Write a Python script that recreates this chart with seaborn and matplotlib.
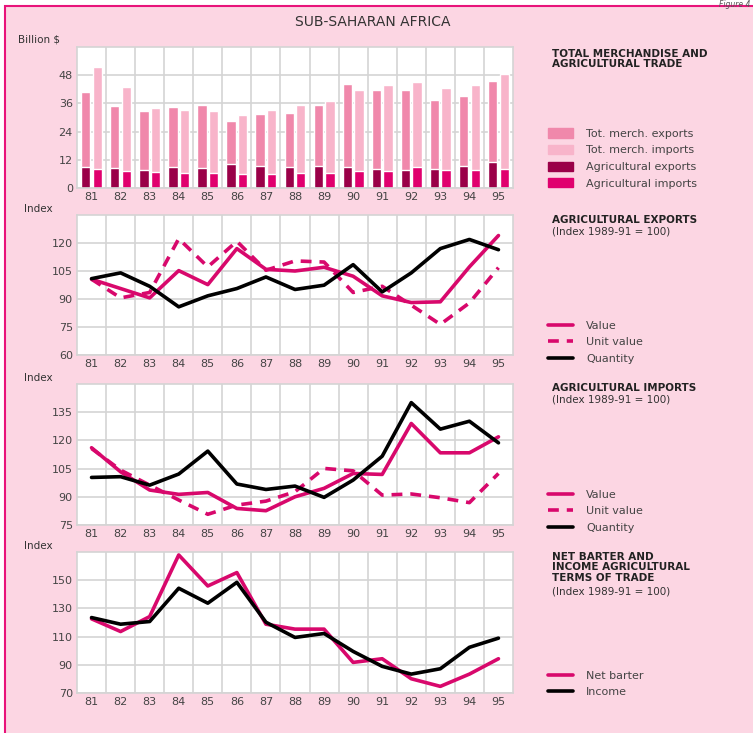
import pandas as pd
import numpy as np
import matplotlib.pyplot as plt
import seaborn as sns
from matplotlib.patches import Patch, Rectangle
from matplotlib.lines import Line2D
from matplotlib.ticker import FixedLocator

# Data
years = ['81', '82', '83', '84', '85', '86', '87', '88', '89', '90', '91', '92', '93', '94', '95']

tot_exports = [40.8, 34.9, 32.7, 34.4, 35.2, 28.4, 31.7, 31.8, 35.5, 44.3, 41.5, 41.9, 37.5, 39.1, 45.7]
tot_imports = [51.4, 43.0, 34.1, 33.4, 32.7, 31.1, 33.1, 35.2, 37.2, 41.5, 43.8, 45.3, 42.6, 43.9, 48.3]
ag_exports = [8.9, 8.4, 7.8, 9.1, 8.7, 10.1, 9.4, 9.1, 9.4, 9.1, 8.1, 7.8, 8.0, 9.5, 10.9]
ag_imports = [8.1, 7.2, 6.7, 6.3, 6.4, 5.8, 5.8, 6.3, 6.5, 7.1, 7.1, 8.8, 7.7, 7.7, 8.2]

exp_value = [100.6, 95.6, 90.6, 105.2, 97.7, 117.0, 105.9, 105.0, 107.0, 102.2, 91.7, 88.1, 88.5, 107.2, 124.0]
exp_unit_value = [100.6, 90.6, 93.5, 122.3, 107.2, 120.9, 105.4, 110.4, 109.8, 93.5, 96.8, 86.7, 76.4, 87.9, 106.8]
exp_quantity = [100.9, 104.0, 96.8, 85.8, 91.7, 95.6, 101.8, 95.1, 97.4, 108.4, 93.8, 104.0, 117.0, 121.9, 116.4]

imp_value = [116.1, 103.3, 93.6, 91.3, 92.3, 83.8, 82.6, 90.0, 94.5, 102.4, 101.9, 129.0, 113.4, 113.4, 121.9]
imp_unit_value = [115.7, 104.2, 96.2, 88.3, 80.7, 85.6, 87.7, 92.7, 105.1, 103.8, 90.9, 91.5, 89.5, 86.9, 102.4]
imp_quantity = [100.3, 100.7, 96.2, 102.1, 114.3, 96.8, 93.9, 95.7, 89.7, 98.9, 111.6, 140.1, 126.0, 130.2, 118.7]

net_barter = [122.6, 113.6, 124.2, 167.9, 145.9, 155.4, 118.8, 115.3, 115.3, 91.7, 94.3, 80.1, 74.7, 83.4, 94.3]
income = [123.5, 118.8, 120.7, 144.3, 133.7, 148.5, 120.2, 109.4, 112.2, 99.5, 88.9, 83.4, 87.2, 102.4, 108.9]

# Colours
BG = '#fcd6e3'
BORDER = '#e8137a'
C_TOTEXP = '#f088ab'
C_TOTIMP = '#f8b4ca'
C_AGEXP = '#9a0048'
C_AGIMP = '#e0006e'
C_LINE = '#d8086c'
C_TEXT = '#444444'
C_GRID = '#d4d4d4'

sns.set_theme(style='white')
plt.rcParams['font.family'] = ['DejaVu Sans']

fig = plt.figure(figsize=(7.53, 7.33), dpi=100, facecolor='white')
fig.patches.append(Rectangle((5 / 753, -0.05), 1.0, 1 - 6 / 733 + 0.05, transform=fig.transFigure,
                             facecolor=BG, edgecolor=BORDER, linewidth=1.5, zorder=-10))
fig.text(0.997, 0.9995, 'Figure 4', fontsize=5.5, color='#555555', style='italic', va='top', ha='right')

fig.text(373 / 753, 1 - 22 / 733, 'SUB-SAHARAN AFRICA', ha='center', va='center', fontsize=10, color='#333333')

L, W = 77 / 753, (513 - 77) / 753
def make_ax(top, bottom):
    return fig.add_axes([L, 1 - bottom / 733, W, (bottom - top) / 733])

def style_ax(ax, ylim, yticks):
    ax.set_facecolor('white')
    ax.set_xlim(-0.5, len(years) - 0.5)
    ax.set_ylim(*ylim)
    ax.set_yticks(yticks)
    ax.set_xticks(range(len(years)))
    ax.set_xticklabels(years)
    ax.xaxis.set_minor_locator(FixedLocator(np.arange(0.5, len(years) - 0.5, 1)))
    ax.grid(False)
    ax.grid(True, axis='y', which='major', color=C_GRID, linewidth=1.2)
    ax.grid(True, axis='x', which='minor', color=C_GRID, linewidth=1.2)
    ax.set_axisbelow(True)
    for s in ax.spines.values():
        s.set_color(C_GRID)
        s.set_linewidth(1.2)
    ax.tick_params(axis='both', which='both', length=0, labelsize=8, labelcolor=C_TEXT, pad=3)
    ax.set_xlabel('')
    ax.set_ylabel('')

def side_title(y, title, sub=None):
    fig.text(552 / 753, 1 - y / 733, title, ha='left', va='top', fontsize=7.5,
             fontweight='bold', color='#222222', linespacing=1.05)
    if sub:
        n = title.count('\n') + 1
        fig.text(552 / 753, 1 - (y + 11.5 * n) / 733, sub, ha='left', va='top', fontsize=7.5, color='#333333')

def side_legend(ax, handles, labels, y):
    ax.legend(handles, labels, loc='upper left', bbox_to_anchor=(544 / 753, 1 - y / 733),
              bbox_transform=fig.transFigure, frameon=False, fontsize=8, handlelength=2.2,
              handleheight=0.9, labelspacing=0.55, handletextpad=1.2, labelcolor=C_TEXT, borderaxespad=0)

# Panel 1: merchandise and agricultural trade bars
ax1 = make_ax(47, 188)
tot = pd.DataFrame({'year': years * 2,
                    'kind': ['exp'] * 15 + ['imp'] * 15,
                    'val': tot_exports + tot_imports})
ag = pd.DataFrame({'year': years * 2,
                   'kind': ['exp'] * 15 + ['imp'] * 15,
                   'val': ag_exports + ag_imports})
sns.barplot(data=tot, x='year', y='val', hue='kind', palette=[C_TOTEXP, C_TOTIMP],
            width=0.8, gap=0.2, ax=ax1, legend=False, saturation=1, errorbar=None)
sns.barplot(data=ag, x='year', y='val', hue='kind', palette=[C_AGEXP, C_AGIMP],
            width=0.8, gap=0.2, ax=ax1, legend=False, saturation=1, errorbar=None)
style_ax(ax1, (0, 60), [0, 12, 24, 36, 48])
fig.text(18 / 753, 1 - 40 / 733, 'Billion $', fontsize=7.5, color='#333333', va='center')
side_title(49, 'TOTAL MERCHANDISE AND\nAGRICULTURAL TRADE')
side_legend(ax1, [Patch(color=c) for c in [C_TOTEXP, C_TOTIMP, C_AGEXP, C_AGIMP]],
            ['Tot. merch. exports', 'Tot. merch. imports', 'Agricultural exports', 'Agricultural imports'], 124)

x = np.arange(len(years))

def line_panel(top, bottom, series, ylim, yticks):
    ax = make_ax(top, bottom)
    for vals, col, dash in series:
        sns.lineplot(x=x, y=vals, color=col, linewidth=2.6, ax=ax)
        if dash:
            ax.lines[-1].set_dashes((3, 2.2))
    style_ax(ax, ylim, yticks)
    fig.text(24 / 753, 1 - (top - 6) / 733, 'Index', fontsize=7.5, color='#333333', va='center')
    return ax

ax2 = line_panel(215, 355, [(exp_value, C_LINE, False), (exp_unit_value, C_LINE, True),
                            (exp_quantity, 'black', False)], (60, 135), [60, 75, 90, 105, 120])
side_title(215, 'AGRICULTURAL EXPORTS', '(Index 1989-91 = 100)')
lh = [Line2D([], [], color=C_LINE, lw=2.6), Line2D([], [], color=C_LINE, lw=2.6, dashes=(3, 2.2)),
      Line2D([], [], color='black', lw=2.6)]
side_legend(ax2, lh, ['Value', 'Unit value', 'Quantity'], 316)

ax3 = line_panel(384, 525, [(imp_value, C_LINE, False), (imp_unit_value, C_LINE, True),
                            (imp_quantity, 'black', False)], (75, 150), [75, 90, 105, 120, 135])
side_title(383, 'AGRICULTURAL IMPORTS', '(Index 1989-91 = 100)')
side_legend(ax3, lh, ['Value', 'Unit value', 'Quantity'], 485)

ax4 = line_panel(552, 693, [(net_barter, C_LINE, False), (income, 'black', False)],
                 (70, 170), [70, 90, 110, 130, 150])
side_title(552, 'NET BARTER AND\nINCOME AGRICULTURAL\nTERMS OF TRADE', '(Index 1989-91 = 100)')
side_legend(ax4, [lh[0], lh[2]], ['Net barter', 'Income'], 666)

fig.savefig('out.png', dpi=100, facecolor=fig.get_facecolor())
